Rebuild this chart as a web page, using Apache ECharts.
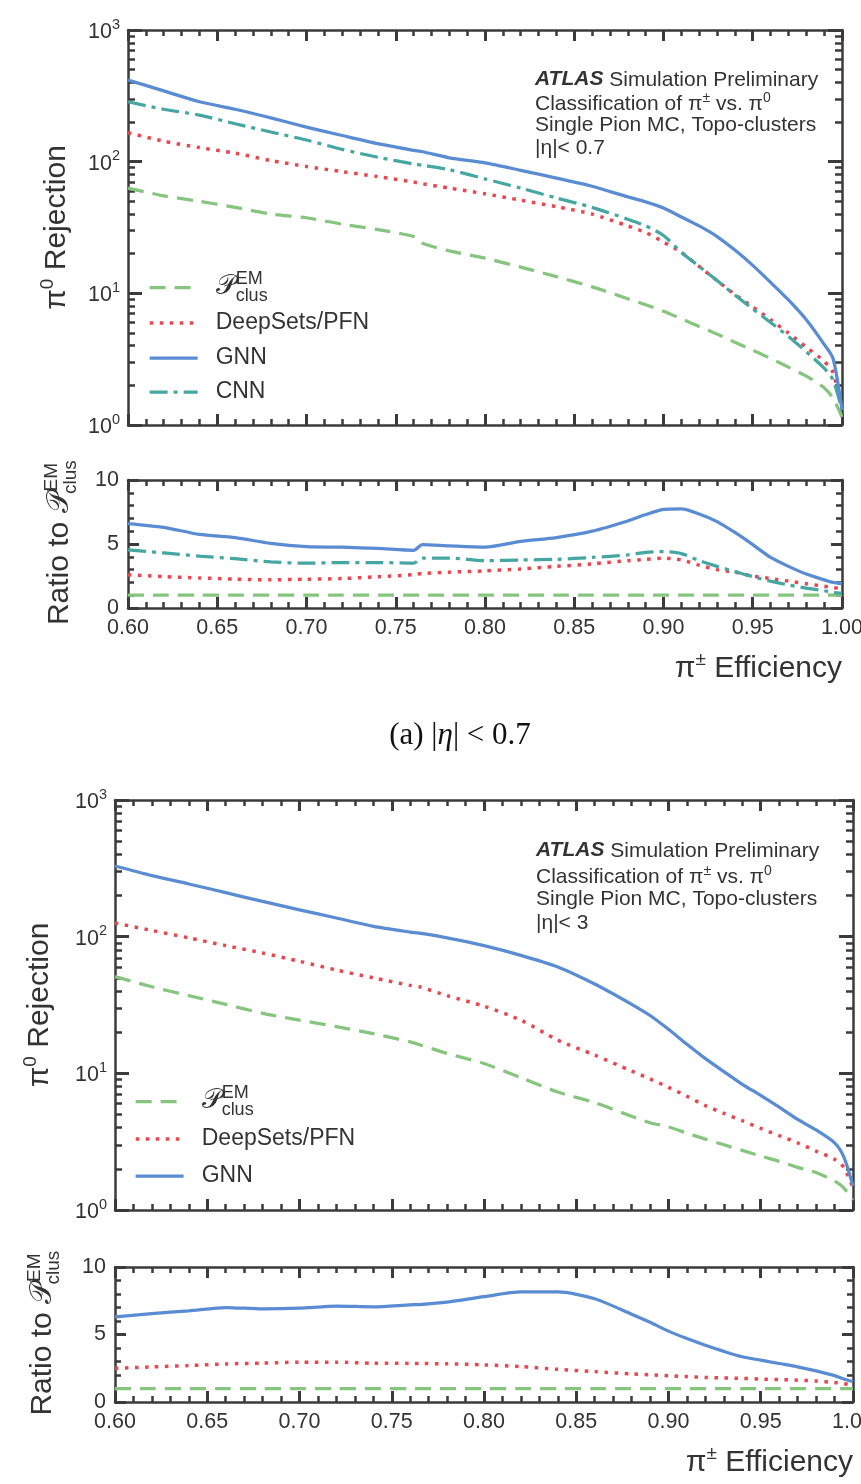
<!DOCTYPE html>
<html>
<head>
<meta charset="utf-8">
<script src="https://cdn.jsdelivr.net/npm/echarts@6/dist/echarts.min.js"></script>
<style>
  html, body { margin: 0; padding: 0; background: #ffffff; }
  #chart { width: 861px; height: 1484px; }
</style>
</head>
<body>
<div id="chart"></div>
<script>
// pi+- efficiency working points shared by every curve
const efficiency = [0.60, 0.62, 0.64, 0.66, 0.68, 0.70, 0.72, 0.74, 0.76, 0.765, 0.78, 0.80, 0.82, 0.84,
  0.86, 0.88, 0.89, 0.90, 0.91, 0.92, 0.93, 0.94, 0.95, 0.96, 0.97, 0.98, 0.99, 0.995, 1.00];

// (a) |eta| < 0.7 : pi0 rejection
const pclusA    = [63, 55, 50, 45, 40, 37.5, 33.5, 30.5, 27, 24, 21, 18.5, 15.8, 13.4, 11.2, 9.1, 8.2, 7.3, 6.4, 5.6, 4.9, 4.25, 3.7, 3.2, 2.75, 2.35, 1.92, 1.6, 1.15];
const deepSetsA = [166, 143, 128, 116, 102, 92, 84, 77, 70, 68, 63, 57, 51, 45.5, 40, 32.5, 29, 24.5, 20.5, 16, 12.5, 9.8, 7.9, 6.3, 5.0, 3.9, 3.05, 2.5, 1.3];
const gnnA      = [417, 345, 285, 250, 215, 183, 158, 137, 122, 119, 107, 98, 86, 75, 65, 54, 49.5, 44.5, 38, 32.5, 27, 21.3, 16.3, 12.1, 8.9, 6.3, 4.1, 3.2, 1.3];
const cnnA      = [285, 250, 226, 194, 168, 146, 124, 108, 96, 94, 87, 74, 63, 53, 45, 36.5, 32.5, 27.5, 20.5, 16, 12.5, 9.7, 7.6, 6.0, 4.7, 3.6, 2.7, 2.2, 1.3];
// (a) ratio to P_clus^EM
const ratioPclusA    = [1, 1, 1, 1, 1, 1, 1, 1, 1, 1, 1, 1, 1, 1, 1, 1, 1, 1, 1, 1, 1, 1, 1, 1, 1, 1, 1, 1, 1];
const ratioDeepSetsA = [2.6, 2.45, 2.35, 2.25, 2.2, 2.25, 2.3, 2.45, 2.6, 2.7, 2.8, 2.9, 3.05, 3.25, 3.45, 3.7, 3.8, 3.9, 3.75, 3.35, 3.0, 2.8, 2.5, 2.3, 2.1, 1.9, 1.7, 1.6, 1.5];
const ratioGnnA      = [6.6, 6.3, 5.75, 5.5, 5.05, 4.8, 4.75, 4.65, 4.5, 4.95, 4.85, 4.75, 5.2, 5.5, 6.0, 6.8, 7.3, 7.7, 7.75, 7.35, 6.75, 5.9, 4.95, 3.95, 3.25, 2.65, 2.2, 2.0, 1.9];
const ratioCnnA      = [4.55, 4.3, 4.05, 3.85, 3.6, 3.5, 3.55, 3.55, 3.5, 3.9, 3.9, 3.7, 3.75, 3.8, 3.95, 4.15, 4.35, 4.4, 4.25, 3.7, 3.25, 2.85, 2.45, 2.1, 1.8, 1.55, 1.35, 1.2, 1.15];

// (b) |eta| < 3 : pi0 rejection
const pclusB    = [51, 43, 37, 32, 27.5, 24.5, 22, 19.5, 17, 16.2, 14, 11.8, 9.3, 7.3, 6.1, 4.85, 4.35, 4.05, 3.65, 3.3, 3.0, 2.73, 2.48, 2.27, 2.05, 1.88, 1.63, 1.45, 1.18];
const deepSetsB = [126, 111, 98, 86, 76, 66, 57, 50, 44, 43, 37, 31, 24.5, 17.5, 13.6, 10.4, 9.1, 7.9, 6.8, 5.8, 5.1, 4.5, 3.95, 3.5, 3.1, 2.7, 2.35, 2.05, 1.45];
const gnnB      = [329, 280, 243, 210, 181, 157, 137, 119, 108, 106, 98, 86, 73, 60, 45, 32, 26.5, 21, 16.3, 12.8, 10.3, 8.3, 6.9, 5.65, 4.6, 3.85, 3.1, 2.45, 1.5];
// (b) ratio to P_clus^EM
const ratioPclusB    = [1, 1, 1, 1, 1, 1, 1, 1, 1, 1, 1, 1, 1, 1, 1, 1, 1, 1, 1, 1, 1, 1, 1, 1, 1, 1, 1, 1, 1];
const ratioDeepSetsB = [2.5, 2.6, 2.7, 2.82, 2.88, 2.95, 2.95, 2.87, 2.86, 2.85, 2.83, 2.75, 2.62, 2.42, 2.25, 2.08, 2.02, 1.95, 1.88, 1.82, 1.78, 1.75, 1.7, 1.66, 1.62, 1.55, 1.45, 1.35, 1.25];
const ratioGnnB      = [6.3, 6.55, 6.75, 7.0, 6.9, 6.95, 7.1, 7.05, 7.2, 7.22, 7.4, 7.8, 8.15, 8.15, 7.65, 6.5, 5.9, 5.25, 4.7, 4.2, 3.75, 3.35, 3.1, 2.85, 2.6, 2.3, 1.95, 1.7, 1.5];

// axis ranges and tick values
const effRange = [0.6, 1.0];
const effStep = 0.05;
const rejectionRange = [1, 1000];
const ratioRange = [0, 10];
const ratioStep = 5;
const minorDigits = [2, 3, 4, 5, 6, 7, 8, 9];
const minorDecades = [1, 10, 100];

const FONT = '"Liberation Sans", Arimo, Helvetica, Arial, sans-serif';
const SERIF = '"Liberation Serif", "DejaVu Serif", "Times New Roman", serif';
const SCRIPT_P = '\u{1D4AB}';
const TEXT = '#333333';
const FRAME = '#3b3b3b';

const STYLE = {
  pclus:    { color: '#86c57d', width: 3.25, type: [16, 9] },
  deepsets: { color: '#e8474f', width: 3.5,  type: [3.5, 6.5] },
  gnn:      { color: '#5a8cd3', width: 3.25, type: 'solid' },
  cnn:      { color: '#45a6a2', width: 3.25, type: [18, 6, 4, 6] }
};
const NAMES = { pclus: 'Pclus', deepsets: 'DeepSets/PFN', gnn: 'GNN', cnn: 'CNN' };

function textWidth(str, font) {
  const ctx = document.createElement('canvas').getContext('2d');
  ctx.font = font;
  return ctx.measureText(str).width;
}

// log10 positions of the 2..9 subdivisions inside each decade
const minorLogTicks = [];
minorDecades.forEach(d => minorDigits.forEach(k => minorLogTicks.push(Math.log10(k * d))));

const GRID_A_MAIN  = { left: 128, top: 30,   width: 714, height: 395 };
const GRID_A_RATIO = { left: 128, top: 480,  width: 714, height: 128 };
const GRID_B_MAIN  = { left: 115, top: 800,  width: 738, height: 410 };
const GRID_B_RATIO = { left: 115, top: 1267, width: 738, height: 135 };

function grid(rect) {
  return Object.assign({ containLabel: false, outerBoundsMode: 'none', show: false }, rect);
}

const axisLine = { show: true, onZero: false, lineStyle: { color: FRAME, width: 2.5 } };
const majorTick = (len) => ({ show: true, inside: true, length: len, lineStyle: { color: FRAME, width: 3 } });
const minorTick = (split) => ({ show: true, splitNumber: split, length: 6, lineStyle: { color: FRAME, width: 2.5 } });

const effTitle = {
  name: '{g|\u03C0}{s|\u00B1}{t| Efficiency}',
  nameLocation: 'end',
  nameGap: 0,
  nameTextStyle: {
    align: 'right', verticalAlign: 'top', padding: [42, 0, 0, 0],
    rich: {
      g: { fontSize: 30, fontFamily: FONT, color: TEXT, lineHeight: 34, verticalAlign: 'bottom' },
      s: { fontSize: 19, fontFamily: FONT, color: TEXT, lineHeight: 18, verticalAlign: 'top' },
      t: { fontSize: 30, fontFamily: FONT, color: TEXT, lineHeight: 34, verticalAlign: 'bottom' }
    }
  }
};

function effAxis(gridIndex, position, withLabels, withTitle) {
  const ax = {
    type: 'value', gridIndex, position,
    min: effRange[0], max: effRange[1], interval: effStep,
    axisLine, axisTick: majorTick(11), minorTick: minorTick(5),
    splitLine: { show: false }, minorSplitLine: { show: false },
    axisLabel: {
      show: withLabels, margin: 9, color: TEXT, fontSize: 21.5, fontFamily: FONT,
      showMinLabel: true, showMaxLabel: true, hideOverlap: false,
      formatter: v => v.toFixed(2)
    }
  };
  if (withTitle) Object.assign(ax, effTitle);
  return ax;
}

const rejectionName = {
  name: '{g|\u03C0}{s|0}{t| Rejection}',
  nameLocation: 'middle',
  nameRotate: 90,
  nameTextStyle: {
    rich: {
      g: { fontSize: 30, fontFamily: FONT, color: TEXT, lineHeight: 34, verticalAlign: 'bottom' },
      s: { fontSize: 19, fontFamily: FONT, color: TEXT, lineHeight: 18, verticalAlign: 'top' },
      t: { fontSize: 30, fontFamily: FONT, color: TEXT, lineHeight: 34, verticalAlign: 'bottom' }
    }
  }
};

function logAxis(gridIndex, position, withLabels, nameGap) {
  const ax = {
    type: 'log', logBase: 10, gridIndex, position,
    min: rejectionRange[0], max: rejectionRange[1],
    axisLine, axisTick: majorTick(14), minorTick: { show: false },
    splitLine: { show: false },
    axisLabel: {
      show: withLabels, margin: 8,
      formatter: v => '{b|10}{s|' + Math.round(Math.log10(v)) + '}',
      rich: {
        b: { fontSize: 21.5, fontFamily: FONT, color: TEXT, lineHeight: 26, verticalAlign: 'bottom' },
        s: { fontSize: 14.5, fontFamily: FONT, color: TEXT, lineHeight: 14, verticalAlign: 'top' }
      }
    }
  };
  if (withLabels) Object.assign(ax, rejectionName, { nameGap });
  return ax;
}

// decade subdivisions drawn on an overlaid log10 scale
function minorLogAxis(gridIndex, position) {
  return {
    type: 'value', gridIndex, position, min: 0, max: 3,
    axisLine: { show: false },
    axisTick: { show: true, inside: true, length: 7, customValues: minorLogTicks, lineStyle: { color: FRAME, width: 2.5 } },
    axisLabel: { show: false },
    splitLine: { show: false }
  };
}

const ratioP_W = textWidth('Ratio to ', '30px ' + FONT) + textWidth(SCRIPT_P, '30px ' + FONT);
const ratioName = {
  name: '{t|Ratio to }{p|' + SCRIPT_P + '}{e|EM}\n{pad|}{c|clus}',
  nameLocation: 'middle',
  nameRotate: 90,
  nameTextStyle: {
    rich: {
      t: { fontSize: 30, fontFamily: FONT, color: TEXT, height: 2, lineHeight: 2, verticalAlign: 'bottom' },
      p: { fontSize: 30, fontFamily: FONT, color: TEXT, height: 2, lineHeight: 2, verticalAlign: 'bottom' },
      e: { fontSize: 19, fontFamily: FONT, color: TEXT, lineHeight: 19, verticalAlign: 'middle' },
      pad: { width: ratioP_W, height: 2, lineHeight: 2, verticalAlign: 'top' },
      c: { fontSize: 19, fontFamily: FONT, color: TEXT, lineHeight: 19, verticalAlign: 'middle' }
    }
  }
};

function ratioAxis(gridIndex, position, withLabels, nameGap) {
  const ax = {
    type: 'value', gridIndex, position,
    min: ratioRange[0], max: ratioRange[1], interval: ratioStep,
    axisLine, axisTick: majorTick(11), minorTick: minorTick(5),
    splitLine: { show: false }, minorSplitLine: { show: false },
    axisLabel: { show: withLabels, margin: 9, color: TEXT, fontSize: 21.5, fontFamily: FONT, showMinLabel: true, showMaxLabel: true }
  };
  if (withLabels) Object.assign(ax, ratioName, { nameGap });
  return ax;
}

function curve(key, xAxisIndex, yAxisIndex, values) {
  const st = STYLE[key];
  return {
    type: 'line', name: NAMES[key], xAxisIndex, yAxisIndex,
    data: efficiency.map((e, i) => [e, values[i]]),
    symbol: 'none', showSymbol: false, smooth: 0.25, silent: true,
    color: st.color,
    lineStyle: { color: st.color, width: st.width, type: st.type, cap: 'butt' },
    z: key === 'gnn' ? 4 : 3
  };
}

const legendP_W = textWidth(SCRIPT_P, '28px ' + FONT);
const legendRich = {
  p: { fontSize: 28, fontFamily: FONT, color: TEXT, height: 2, lineHeight: 2, verticalAlign: 'bottom' },
  e: { fontSize: 18, fontFamily: FONT, color: TEXT, lineHeight: 17, verticalAlign: 'middle' },
  pad: { width: legendP_W, height: 2, lineHeight: 2, verticalAlign: 'top' },
  c: { fontSize: 18, fontFamily: FONT, color: TEXT, lineHeight: 17, verticalAlign: 'middle' }
};

function legendEntry(key, left, centerY) {
  const tall = key === 'pclus';
  return {
    show: true, data: [NAMES[key]], orient: 'vertical', left, top: centerY - (tall ? 15 : 12),
    padding: 0, itemWidth: 48, itemHeight: 14, itemGap: 0, selectedMode: false,
    itemStyle: { opacity: 0 },
    lineStyle: { width: 'inherit', type: 'inherit', cap: 'butt' },
    textStyle: { fontSize: 23, fontFamily: FONT, color: TEXT, lineHeight: 24, padding: [0, 0, 0, 13], rich: legendRich },
    formatter: n => (n === NAMES.pclus ? '{p|' + SCRIPT_P + '}{e|EM}\n{pad|}{c|clus}' : n)
  };
}

const atlasRich = {
  a: { fontSize: 21, fontFamily: FONT, color: TEXT, fontWeight: 'bold', fontStyle: 'italic' },
  n: { fontSize: 21, fontFamily: FONT, color: TEXT, lineHeight: 24, verticalAlign: 'bottom' },
  s: { fontSize: 14, fontFamily: FONT, color: TEXT, lineHeight: 14, verticalAlign: 'top' }
};

function atlasBlock(x, ys, etaText) {
  const lines = [
    '{a|ATLAS}{n| Simulation Preliminary}',
    '{n|Classification of \u03C0}{s|\u00B1}{n| vs. \u03C0}{s|0}',
    '{n|Single Pion MC, Topo-clusters}',
    '{n|' + etaText + '}'
  ];
  return lines.map((t, i) => ({
    type: 'text', x, y: ys[i], silent: true,
    style: { text: t, rich: atlasRich, fontSize: 21, fontFamily: FONT, fill: TEXT, align: 'left', verticalAlign: 'middle' }
  }));
}

const captionRich = {
  r: { fontSize: 31, fontFamily: SERIF, color: '#111111' },
  i: { fontSize: 31, fontFamily: SERIF, color: '#111111', fontStyle: 'italic' }
};

const option = {
  backgroundColor: '#ffffff',
  animation: false,
  grid: [grid(GRID_A_MAIN), grid(GRID_A_RATIO), grid(GRID_B_MAIN), grid(GRID_B_RATIO), grid(GRID_A_MAIN), grid(GRID_B_MAIN)],
  xAxis: [
    effAxis(0, 'bottom', false, false),
    effAxis(0, 'top', false, false),
    effAxis(1, 'bottom', true, true),
    effAxis(1, 'top', false, false),
    effAxis(2, 'bottom', false, false),
    effAxis(2, 'top', false, false),
    effAxis(3, 'bottom', true, true),
    effAxis(3, 'top', false, false),
    { type: 'value', gridIndex: 4, min: effRange[0], max: effRange[1], show: false },
    { type: 'value', gridIndex: 5, min: effRange[0], max: effRange[1], show: false }
  ],
  yAxis: [
    logAxis(0, 'left', true, 56),
    logAxis(0, 'right', false),
    ratioAxis(1, 'left', true, 48),
    ratioAxis(1, 'right', false),
    logAxis(2, 'left', true, 60),
    logAxis(2, 'right', false),
    ratioAxis(3, 'left', true, 52),
    ratioAxis(3, 'right', false),
    minorLogAxis(4, 'left'),
    minorLogAxis(4, 'right'),
    minorLogAxis(5, 'left'),
    minorLogAxis(5, 'right')
  ],
  legend: [
    legendEntry('pclus', 148, 285),
    legendEntry('deepsets', 148, 323),
    legendEntry('gnn', 148, 358),
    legendEntry('cnn', 148, 392),
    legendEntry('pclus', 134, 1099),
    legendEntry('deepsets', 134, 1139),
    legendEntry('gnn', 134, 1176)
  ],
  series: [
    curve('pclus', 0, 0, pclusA),
    curve('deepsets', 0, 0, deepSetsA),
    curve('cnn', 0, 0, cnnA),
    curve('gnn', 0, 0, gnnA),
    curve('pclus', 2, 2, ratioPclusA),
    curve('deepsets', 2, 2, ratioDeepSetsA),
    curve('cnn', 2, 2, ratioCnnA),
    curve('gnn', 2, 2, ratioGnnA),
    curve('pclus', 4, 4, pclusB),
    curve('deepsets', 4, 4, deepSetsB),
    curve('gnn', 4, 4, gnnB),
    curve('pclus', 6, 6, ratioPclusB),
    curve('deepsets', 6, 6, ratioDeepSetsB),
    curve('gnn', 6, 6, ratioGnnB)
  ],
  graphic: [
    ...atlasBlock(535, [79, 103, 124, 147], '|\u03B7|< 0.7'),
    ...atlasBlock(536, [850, 876, 898, 922], '|\u03B7|< 3'),
    {
      type: 'text', x: 460, y: 736, silent: true,
      style: { text: '{r|(a) |}{i|\u03B7}{r|| < 0.7}', rich: captionRich, fontSize: 31, fontFamily: SERIF, fill: '#111111', align: 'center', verticalAlign: 'middle' }
    }
  ]
};

const chart = echarts.init(document.getElementById('chart'), null, { renderer: 'canvas', width: 861, height: 1484 });
chart.setOption(option);
</script>
</body>
</html>
